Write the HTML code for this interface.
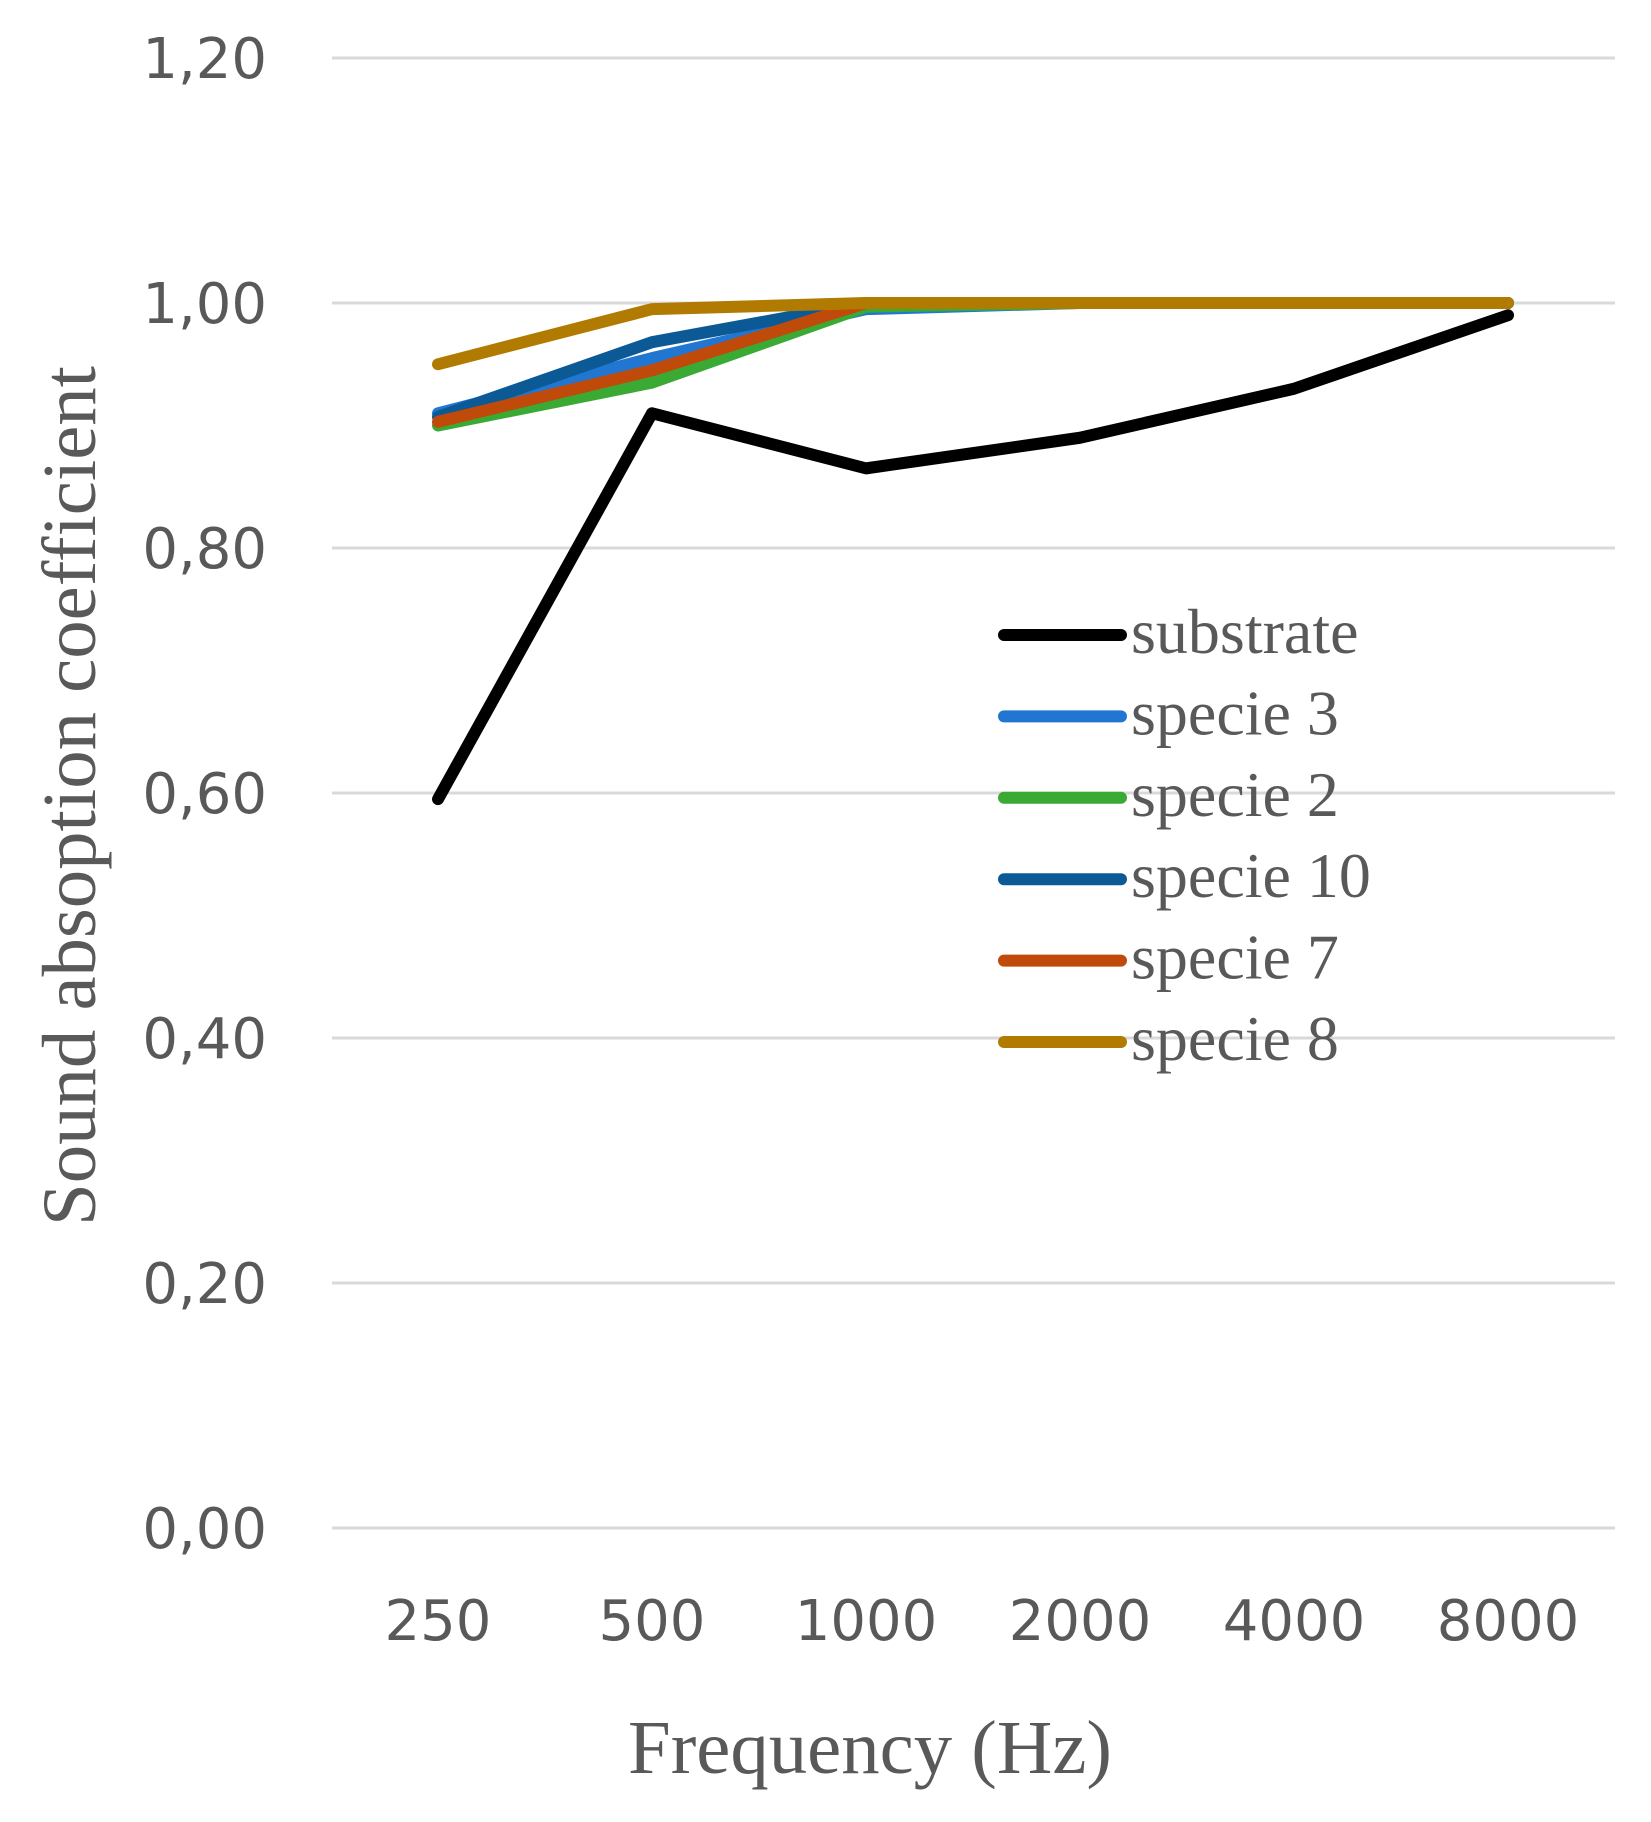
<!DOCTYPE html>
<html><head><meta charset="utf-8"><style>
html,body{margin:0;padding:0;background:#fff;}
svg{display:block;}
.tk{font-family:"DejaVu Sans","Liberation Sans",sans-serif;font-size:56px;fill:#595959;}
.ser{font-family:"Liberation Serif","DejaVu Serif",serif;fill:#595959;}
</style></head><body>
<svg id="chart" width="1651" height="1822" viewBox="0 0 1651 1822">
<g id="grid"></g>
<g id="yt"></g>
<g id="xt"></g>
<g id="lines"></g>
<g id="legend"></g>
<text class="ser" font-size="76" text-anchor="middle" textLength="860" lengthAdjust="spacingAndGlyphs" transform="translate(95,796) rotate(-90)">Sound absoption coefficient</text>
<text class="ser" font-size="76" text-anchor="middle" textLength="484" lengthAdjust="spacingAndGlyphs" x="870" y="1773">Frequency (Hz)</text>
</svg>
<script>
const categories=["250","500","1000","2000","4000","8000"];
const yTicks=[0,0.2,0.4,0.6,0.8,1.0,1.2];
const yTickLabels=["0,00","0,20","0,40","0,60","0,80","1,00","1,20"];
const seriesNames=["substrate","specie 3","specie 2","specie 10","specie 7","specie 8"];
const seriesColors=["#000000","#2176d2","#3aaa35","#0b5a96","#c04a0a","#b07b00"];
const substrate=[0.595,0.91,0.865,0.89,0.93,0.99];
const specie3=[0.91,0.955,0.995,1,1,1];
const specie2=[0.90,0.935,0.997,1,1,1];
const specie10=[0.907,0.968,1,1,1,1];
const specie7=[0.903,0.945,1,1,1,1];
const specie8=[0.95,0.995,1,1,1,1];
const seriesData=[substrate,specie3,specie2,specie10,specie7,specie8];
const drawOrder=[0,1,2,3,4,5];

const NS="http://www.w3.org/2000/svg";
const y0=1528,yPer=1225,x0=438,xStep=214,gx1=332,gx2=1615;
const yS=v=>y0-v*yPer;
const xS=i=>x0+i*xStep;
function mk(t,a,p){const e=document.createElementNS(NS,t);for(const k in a)e.setAttribute(k,a[k]);p.appendChild(e);return e;}
const grid=document.getElementById('grid'),yt=document.getElementById('yt'),xt=document.getElementById('xt');
yTicks.forEach((v,i)=>{
  const l=mk('line',{x1:gx1,x2:gx2,y1:yS(v),y2:yS(v),stroke:'#d9d9d9','stroke-width':3},grid);
  
  
  const t=mk('text',{x:267,y:yS(v)+20,'text-anchor':'end',class:'tk'},yt);
  t.textContent=yTickLabels[i];
  
  
});
categories.forEach((c,i)=>{
  const t=mk('text',{x:xS(i),y:1640,'text-anchor':'middle',class:'tk'},xt);
  t.textContent=c;
  
  
});
const lines=document.getElementById('lines');
drawOrder.forEach(s=>{
  const pts=seriesData[s].map((v,i)=>xS(i)+','+yS(v)).join(' ');
  const p=mk('polyline',{points:pts,fill:'none',stroke:seriesColors[s],'stroke-width':12,'stroke-linejoin':'round','stroke-linecap':'round'},lines);
  
  
});
const lg=document.getElementById('legend');
seriesNames.forEach((n,i)=>{
  const y=635+i*81.4;
  const g=mk('g',{},lg);
  
  
  mk('line',{x1:1004,x2:1121,y1:y,y2:y,stroke:seriesColors[i],'stroke-width':12,'stroke-linecap':'round'},g);
  const t=mk('text',{x:1131,y:y+18,class:'ser','font-size':64},g);
  t.textContent=n;
});
</script>
</body></html>
